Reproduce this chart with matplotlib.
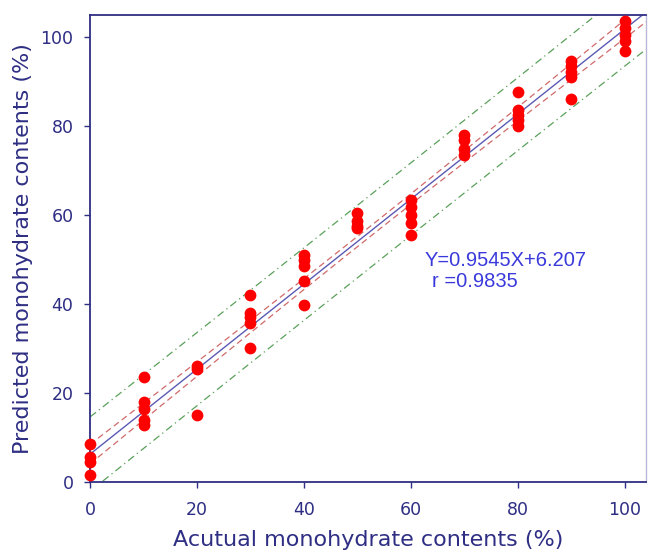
import numpy as np
import matplotlib.pyplot as plt

plt.rcParams['font.family'] = ['DejaVu Sans']

# actual content levels and the predicted values measured at each level
actual_levels = [0, 10, 20, 30, 40, 50, 60, 70, 80, 90, 100]
predicted = [
    [1.5, 4.5, 5.5, 8.4],
    [23.5, 18.0, 16.3, 13.9, 12.7],
    [26.0, 25.3, 15.0],
    [42.0, 38.0, 37.0, 35.6, 30.1],
    [51.0, 49.8, 48.5, 45.2, 39.6],
    [60.3, 58.5, 57.5, 57.0],
    [63.3, 61.8, 60.0, 58.2, 55.4],
    [77.9, 76.8, 74.7, 73.4],
    [87.5, 83.5, 82.4, 81.2, 80.0],
    [94.6, 93.3, 92.0, 91.0, 86.0],
    [103.4, 102.0, 100.4, 98.9, 96.7],
]
slope, intercept = 0.9545, 6.207
r_value = 0.9835

x = np.concatenate([[a] * len(p) for a, p in zip(actual_levels, predicted)]).astype(float)
y = np.concatenate(predicted)

# confidence / prediction bands around the fitted line
n = len(x)
resid = y - (slope * x + intercept)
s = np.sqrt(np.sum(resid ** 2) / (n - 2))
sxx = np.sum((x - x.mean()) ** 2)
t = 2.015
xx = np.linspace(0, 104, 200)
yy = slope * xx + intercept
ci = t * s * np.sqrt(1 / n + (xx - x.mean()) ** 2 / sxx)
pi = t * s * np.sqrt(1 + 1 / n + (xx - x.mean()) ** 2 / sxx)

navy = '#2e2e84'
fig = plt.figure(figsize=(6.48, 5.55), dpi=100)
ax = fig.add_axes([0.139, 0.132, 0.858, 0.8415])

ax.plot(xx, yy + pi, color='#5aa05a', lw=0.9, ls='-.', dashes=(6, 3, 1, 3))
ax.plot(xx, yy - pi, color='#5aa05a', lw=0.9, ls='-.', dashes=(6, 3, 1, 3))
ax.plot(xx, yy + ci, color='#d06a6a', lw=0.9, ls='--', dashes=(5, 3))
ax.plot(xx, yy - ci, color='#d06a6a', lw=0.9, ls='--', dashes=(5, 3))
ax.plot(xx, yy, color='#5a5ab4', lw=1.0)

ax.scatter(x, y, s=72, color='#ff0000', zorder=5, clip_on=False, linewidths=0)

eq_font = dict(color='#3a3adc', fontsize=14.5, family='Liberation Sans',
               va='center', ha='left')
ax.text(62.6, 49.8, f'Y={slope}X+{intercept}', **eq_font)
ax.text(64.0, 44.9, f'r ={r_value}', **eq_font)

ax.set_xlim(0, 104)
ax.set_ylim(0, 104.9)
ax.set_xticks(range(0, 101, 20))
ax.set_yticks(range(0, 101, 20))
ax.tick_params(colors=navy, labelsize=12.5, length=4, width=1, direction='out')
ax.tick_params(axis='x', pad=10)
ax.tick_params(axis='y', pad=8)
ax.set_xlabel('Acutual monohydrate contents (%)', color=navy, fontsize=16, labelpad=8)
ax.set_ylabel('Predicted monohydrate contents (%)', color=navy, fontsize=16, labelpad=5)
for side in ['left', 'bottom', 'top']:
    ax.spines[side].set_color(navy)
    ax.spines[side].set_linewidth(1.3)
ax.spines['right'].set_color('#b8b8d8')
ax.spines['right'].set_linewidth(1.0)

fig.savefig('out.png', dpi=100)
